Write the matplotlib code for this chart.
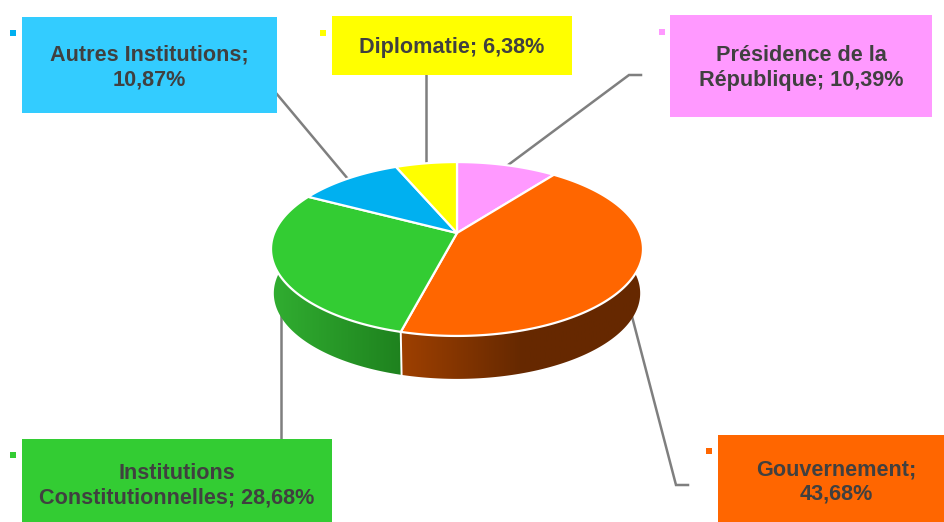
"""Pie in perspective with extruded side, boxed labels and leader lines."""

import numpy as np
import matplotlib

matplotlib.use("Agg")
import matplotlib.pyplot as plt
from matplotlib.colors import LinearSegmentedColormap
from matplotlib.patches import Polygon, Rectangle

categories = [
    "Présidence de la\nRépublique",
    "Gouvernement",
    "Institutions\nConstitutionnelles",
    "Autres Institutions",
    "Diplomatie",
]
values = [10.39, 43.68, 28.68, 10.87, 6.38]
value_labels = ["10,39%", "43,68%", "28,68%", "10,87%", "6,38%"]

slice_colors = ["#FF99FF", "#FF6600", "#33CC33", "#00B0F0", "#FFFF00"]
box_colors = ["#FF99FF", "#FF6600", "#33CC33", "#33CCFF", "#FFFF00"]

# label layout, pixels
boxes = [(670, 15, 932, 117), (718, 435, 944, 522), (22, 439, 332, 522),
         (22, 17, 277, 113), (332, 16, 572, 75)]
text_pos = [(801, 68), (836.5, 482), (177, 485.5), (149, 67.5), (452, 48)]
keys = [(662, 32), (709, 451), (13, 455), (13, 33), (323, 33)]
line_breaks = [" ", "\n", " ", "\n", " "]
leaders = [
    [(641, 75), (629, 75), (500, 171)],
    [(629, 305), (676, 485), (688, 485)],
    [(281, 300), (281, 440)],
    [(276, 93), (353, 185)],
    [(426, 75), (426, 172)],
]

# perspective of the disc
CX, CY = 457, 233
AX, AY, K = 182.8, 84.0, 0.184
DEPTH, SHRINK = 44.5, 0.985


def rim(a0, a1, scale=1.0, dy=0.0):
    """Points of the disc edge between two clockwise angles from 12 o'clock."""
    t = np.radians(np.linspace(a0, a1, max(int(abs(a1 - a0) * 2), 2)))
    u, v = np.sin(t), np.cos(t)
    w = 1 + K * v
    return np.column_stack([CX + scale * AX * u / w, CY + dy - scale * AY * v / w])


def side(ax, a0, a1, colors, x0, x1):
    band = np.vstack([rim(a0, a1), rim(a1, a0, SHRINK, DEPTH)])
    cmap = LinearSegmentedColormap.from_list("side", colors)
    im = ax.imshow(np.linspace(0, 1, 256)[None, :], cmap=cmap, aspect="auto",
                   extent=(x0, x1, 522, 0), zorder=3)
    im.set_clip_path(Polygon(band, closed=True, transform=ax.transData))


fig = plt.figure(figsize=(9.44, 5.22), dpi=100)
ax = fig.add_axes([0, 0, 1, 1])

for pts in leaders:
    ax.plot(*zip(*pts), color="#7F7F7F", lw=1.8, zorder=2, solid_joinstyle="miter")

edges = np.cumsum([0] + values) * 3.6

# side wall, only the two front slices show it
side(ax, edges[1] - 10, edges[2], [(0.40, 0.16, 0), (0.40, 0.16, 0), (0.62, 0.25, 0)], 641, 401)
side(ax, edges[2], edges[3] - 20, [(0.12, 0.51, 0.12), (0.19, 0.68, 0.19)], 401, 273)

seam_top = rim(edges[2], edges[2])[0]
seam_bottom = rim(edges[2], edges[2], SHRINK, DEPTH)[0]
ax.plot([seam_top[0], seam_bottom[0]], [seam_top[1], seam_bottom[1]],
        color="white", lw=1.4, zorder=4)

# top face
for a0, a1, color in zip(edges[:-1], edges[1:], slice_colors):
    pts = np.vstack([[CX, CY], rim(a0, a1)])
    ax.add_patch(Polygon(pts, closed=True, fc=color, ec="white", lw=1.6,
                         joinstyle="round", zorder=5))

for name, val, sep, box, pos, color in zip(categories, value_labels, line_breaks,
                                           boxes, text_pos, box_colors):
    x0, y0, x1, y1 = box
    ax.add_patch(Rectangle((x0, y0), x1 - x0, y1 - y0, fc=color, ec="none", zorder=6))
    ax.text(pos[0], pos[1], f"{name};{sep}{val}", ha="center", va="center",
            family="Liberation Sans", fontsize=15.6, fontweight="bold", color="#404040",
            linespacing=1.2, zorder=7)

for key, color in zip(keys, slice_colors):
    ax.add_patch(Rectangle((key[0] - 3, key[1] - 3), 6, 6, fc=color, ec="none", zorder=6))

ax.set_xlim(0, 944)
ax.set_ylim(522, 0)
ax.axis("off")

fig.savefig("out.png", dpi=100)
plt.close(fig)
